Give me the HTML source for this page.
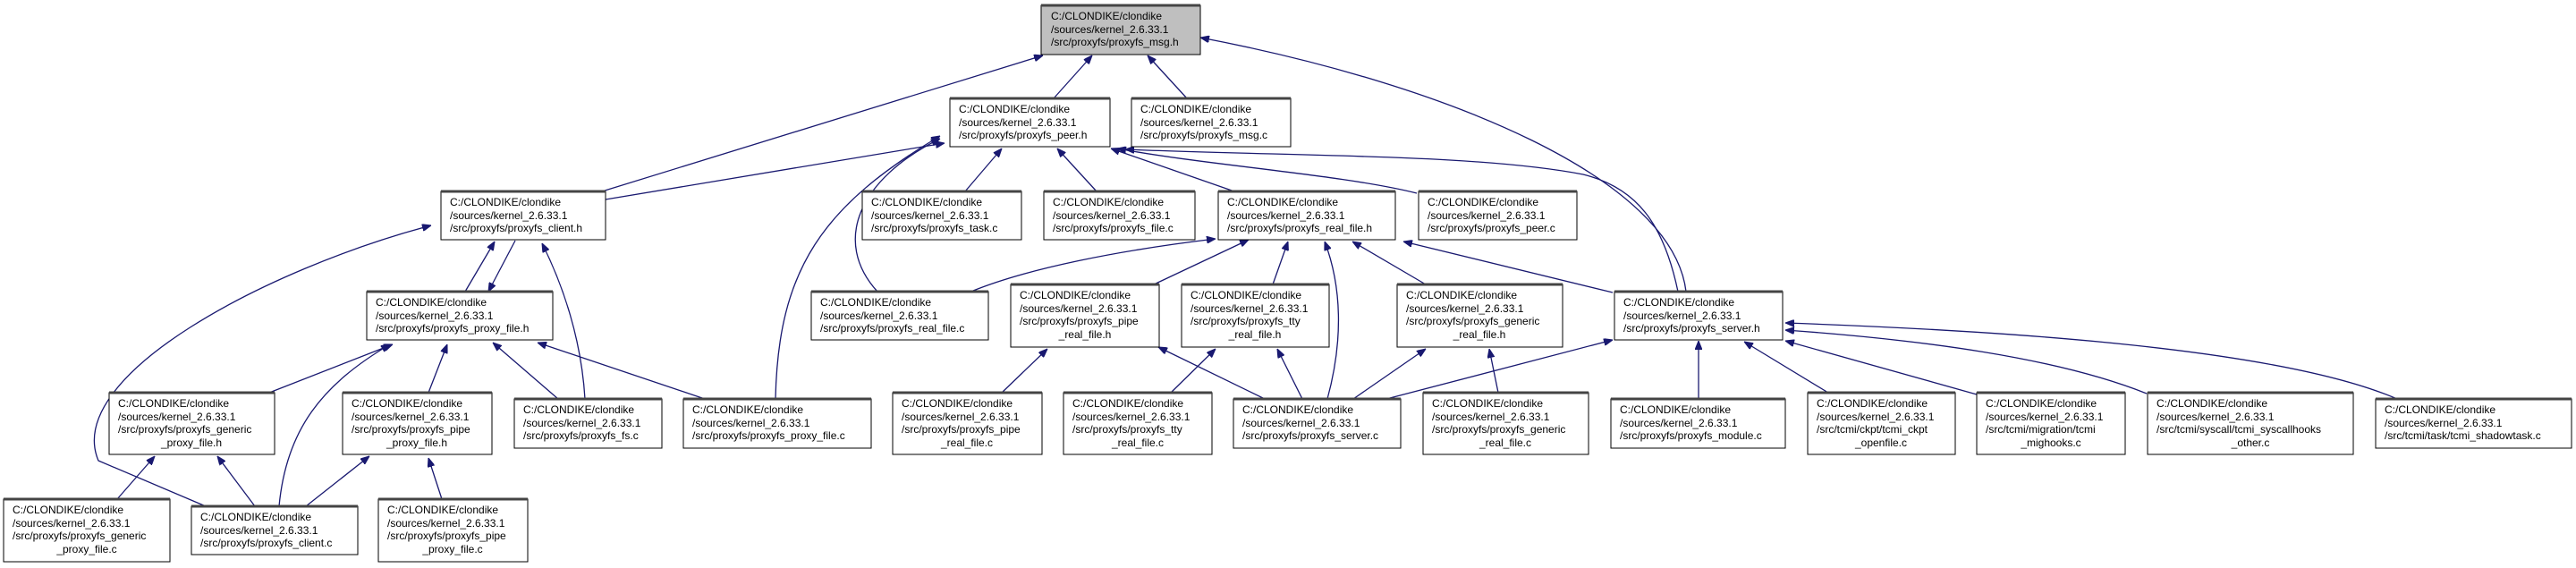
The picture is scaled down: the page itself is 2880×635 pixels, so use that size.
<!DOCTYPE html>
<html><head><meta charset="utf-8">
<style>
html,body{margin:0;padding:0;background:#fff;}
svg{display:block;}
text{font-family:"Liberation Sans",Arial,sans-serif;font-size:12px;fill:#000;}
.b{fill:#fff;stroke:#000;stroke-width:1;}
.t{stroke:#444;stroke-width:3;}
.e{fill:none;stroke:#191970;stroke-width:1.3;}
</style></head><body>
<svg width="2880" height="635" viewBox="0 0 2880 635" xmlns="http://www.w3.org/2000/svg">
<defs><marker id="a" viewBox="0 0 10 8" refX="10" refY="4" markerWidth="10" markerHeight="8" markerUnits="userSpaceOnUse" orient="auto"><path d="M0,0 L10,4 L0,8 z" fill="#191970" stroke="#191970"/></marker></defs>
<g class="e" marker-end="url(#a)">
<path d="M1178,110 L1221,62"/>
<path d="M1327,110 L1283,62"/>
<path d="M673,214 L1166,62"/>
<path d="M1885,326 C1870,200 1620,95 1342,42"/>
<path d="M677,223 L1056,160"/>
<path d="M981,326 C930,270 960,200 1051,155"/>
<path d="M867,446 C870,300 920,230 1051,152"/>
<path d="M1079,214 L1120,166"/>
<path d="M1226,214 L1182,166"/>
<path d="M1380,214 L1242,166"/>
<path d="M1584,216 C1500,195 1350,185 1249,166"/>
<path d="M1876,326 C1860,250 1830,210 1770,195 C1650,172 1450,175 1258,167"/>
<path d="M520,326 L553,270"/>
<path d="M576,269 L546,326"/>
<path d="M654,446 C650,380 630,320 606,272"/>
<path d="M230,566 L110,515 C70,420 300,300 482,252"/>
<path d="M301,439 L439,385"/>
<path d="M312,566 C320,480 360,430 436,385"/>
<path d="M479,439 L500,385"/>
<path d="M624,446 L551,383"/>
<path d="M788,446 L601,383"/>
<path d="M131,558 L173,510"/>
<path d="M285,566 L243,510"/>
<path d="M342,566 L413,510"/>
<path d="M494,558 L479,512"/>
<path d="M1088,325 C1150,300 1250,280 1359,267"/>
<path d="M1290,318 L1396,268"/>
<path d="M1423,318 L1440,270"/>
<path d="M1484,446 C1502,380 1500,320 1481,270"/>
<path d="M1594,318 L1512,270"/>
<path d="M1803,327 L1569,270"/>
<path d="M1120,439 L1171,390"/>
<path d="M1414,446 L1295,388"/>
<path d="M1309,439 L1359,390"/>
<path d="M1456,446 L1428,390"/>
<path d="M1513,446 L1594,390"/>
<path d="M1675,439 L1665,390"/>
<path d="M1550,446 L1803,380"/>
<path d="M1899,446 L1899,381"/>
<path d="M2044,439 L1950,382"/>
<path d="M2210,441 L1996,381"/>
<path d="M2400,440 C2300,400 2150,380 1996,369"/>
<path d="M2680,446 C2550,390 2250,370 1996,361"/>
</g>
<g>
<rect x="1164" y="6" width="178" height="55" fill="#bfbfbf" stroke="#000"/><line class="t" x1="1164" y1="6" x2="1342" y2="6"/>
<text x="1175" y="22">C:/CLONDIKE/clondike</text><text x="1175" y="37">/sources/kernel_2.6.33.1</text><text x="1175" y="51">/src/proxyfs/proxyfs_msg.h</text>

<rect class="b" x="1062" y="110" width="179" height="54"/><line class="t" x1="1062" y1="110" x2="1241" y2="110"/>
<text x="1072" y="126">C:/CLONDIKE/clondike</text><text x="1072" y="141">/sources/kernel_2.6.33.1</text><text x="1072" y="155">/src/proxyfs/proxyfs_peer.h</text>

<rect class="b" x="1265" y="110" width="178" height="54"/><line class="t" x1="1265" y1="110" x2="1443" y2="110"/>
<text x="1275" y="126">C:/CLONDIKE/clondike</text><text x="1275" y="141">/sources/kernel_2.6.33.1</text><text x="1275" y="155">/src/proxyfs/proxyfs_msg.c</text>

<rect class="b" x="493" y="214" width="184" height="54"/><line class="t" x1="493" y1="214" x2="677" y2="214"/>
<text x="503" y="230">C:/CLONDIKE/clondike</text><text x="503" y="245">/sources/kernel_2.6.33.1</text><text x="503" y="259">/src/proxyfs/proxyfs_client.h</text>

<rect class="b" x="964" y="214" width="178" height="54"/><line class="t" x1="964" y1="214" x2="1142" y2="214"/>
<text x="974" y="230">C:/CLONDIKE/clondike</text><text x="974" y="245">/sources/kernel_2.6.33.1</text><text x="974" y="259">/src/proxyfs/proxyfs_task.c</text>

<rect class="b" x="1167" y="214" width="169" height="54"/><line class="t" x1="1167" y1="214" x2="1336" y2="214"/>
<text x="1177" y="230">C:/CLONDIKE/clondike</text><text x="1177" y="245">/sources/kernel_2.6.33.1</text><text x="1177" y="259">/src/proxyfs/proxyfs_file.c</text>

<rect class="b" x="1362" y="214" width="198" height="54"/><line class="t" x1="1362" y1="214" x2="1560" y2="214"/>
<text x="1372" y="230">C:/CLONDIKE/clondike</text><text x="1372" y="245">/sources/kernel_2.6.33.1</text><text x="1372" y="259">/src/proxyfs/proxyfs_real_file.h</text>

<rect class="b" x="1586" y="214" width="177" height="54"/><line class="t" x1="1586" y1="214" x2="1763" y2="214"/>
<text x="1596" y="230">C:/CLONDIKE/clondike</text><text x="1596" y="245">/sources/kernel_2.6.33.1</text><text x="1596" y="259">/src/proxyfs/proxyfs_peer.c</text>

<rect class="b" x="410" y="326" width="208" height="54"/><line class="t" x1="410" y1="326" x2="618" y2="326"/>
<text x="420" y="342">C:/CLONDIKE/clondike</text><text x="420" y="357">/sources/kernel_2.6.33.1</text><text x="420" y="371">/src/proxyfs/proxyfs_proxy_file.h</text>

<rect class="b" x="907" y="326" width="198" height="54"/><line class="t" x1="907" y1="326" x2="1105" y2="326"/>
<text x="917" y="342">C:/CLONDIKE/clondike</text><text x="917" y="357">/sources/kernel_2.6.33.1</text><text x="917" y="371">/src/proxyfs/proxyfs_real_file.c</text>

<rect class="b" x="1130" y="318" width="166" height="70"/><line class="t" x1="1130" y1="318" x2="1296" y2="318"/>
<text x="1140" y="334">C:/CLONDIKE/clondike</text><text x="1140" y="349">/sources/kernel_2.6.33.1</text><text x="1140" y="363">/src/proxyfs/proxyfs_pipe</text><text x="1213" y="378" text-anchor="middle">_real_file.h</text>

<rect class="b" x="1321" y="318" width="165" height="70"/><line class="t" x1="1321" y1="318" x2="1486" y2="318"/>
<text x="1331" y="334">C:/CLONDIKE/clondike</text><text x="1331" y="349">/sources/kernel_2.6.33.1</text><text x="1331" y="363">/src/proxyfs/proxyfs_tty</text><text x="1403" y="378" text-anchor="middle">_real_file.h</text>

<rect class="b" x="1562" y="318" width="185" height="70"/><line class="t" x1="1562" y1="318" x2="1747" y2="318"/>
<text x="1572" y="334">C:/CLONDIKE/clondike</text><text x="1572" y="349">/sources/kernel_2.6.33.1</text><text x="1572" y="363">/src/proxyfs/proxyfs_generic</text><text x="1654" y="378" text-anchor="middle">_real_file.h</text>

<rect class="b" x="1805" y="326" width="188" height="54"/><line class="t" x1="1805" y1="326" x2="1993" y2="326"/>
<text x="1815" y="342">C:/CLONDIKE/clondike</text><text x="1815" y="357">/sources/kernel_2.6.33.1</text><text x="1815" y="371">/src/proxyfs/proxyfs_server.h</text>

<rect class="b" x="122" y="439" width="185" height="69"/><line class="t" x1="122" y1="439" x2="307" y2="439"/>
<text x="132" y="455">C:/CLONDIKE/clondike</text><text x="132" y="470">/sources/kernel_2.6.33.1</text><text x="132" y="484">/src/proxyfs/proxyfs_generic</text><text x="214" y="499" text-anchor="middle">_proxy_file.h</text>

<rect class="b" x="383" y="439" width="167" height="69"/><line class="t" x1="383" y1="439" x2="550" y2="439"/>
<text x="393" y="455">C:/CLONDIKE/clondike</text><text x="393" y="470">/sources/kernel_2.6.33.1</text><text x="393" y="484">/src/proxyfs/proxyfs_pipe</text><text x="466" y="499" text-anchor="middle">_proxy_file.h</text>

<rect class="b" x="575" y="446" width="165" height="55"/><line class="t" x1="575" y1="446" x2="740" y2="446"/>
<text x="585" y="462">C:/CLONDIKE/clondike</text><text x="585" y="477">/sources/kernel_2.6.33.1</text><text x="585" y="491">/src/proxyfs/proxyfs_fs.c</text>

<rect class="b" x="764" y="446" width="210" height="55"/><line class="t" x1="764" y1="446" x2="974" y2="446"/>
<text x="774" y="462">C:/CLONDIKE/clondike</text><text x="774" y="477">/sources/kernel_2.6.33.1</text><text x="774" y="491">/src/proxyfs/proxyfs_proxy_file.c</text>

<rect class="b" x="998" y="439" width="167" height="69"/><line class="t" x1="998" y1="439" x2="1165" y2="439"/>
<text x="1008" y="455">C:/CLONDIKE/clondike</text><text x="1008" y="470">/sources/kernel_2.6.33.1</text><text x="1008" y="484">/src/proxyfs/proxyfs_pipe</text><text x="1081" y="499" text-anchor="middle">_real_file.c</text>

<rect class="b" x="1189" y="439" width="166" height="69"/><line class="t" x1="1189" y1="439" x2="1355" y2="439"/>
<text x="1199" y="455">C:/CLONDIKE/clondike</text><text x="1199" y="470">/sources/kernel_2.6.33.1</text><text x="1199" y="484">/src/proxyfs/proxyfs_tty</text><text x="1272" y="499" text-anchor="middle">_real_file.c</text>

<rect class="b" x="1379" y="446" width="187" height="55"/><line class="t" x1="1379" y1="446" x2="1566" y2="446"/>
<text x="1389" y="462">C:/CLONDIKE/clondike</text><text x="1389" y="477">/sources/kernel_2.6.33.1</text><text x="1389" y="491">/src/proxyfs/proxyfs_server.c</text>

<rect class="b" x="1591" y="439" width="185" height="69"/><line class="t" x1="1591" y1="439" x2="1776" y2="439"/>
<text x="1601" y="455">C:/CLONDIKE/clondike</text><text x="1601" y="470">/sources/kernel_2.6.33.1</text><text x="1601" y="484">/src/proxyfs/proxyfs_generic</text><text x="1683" y="499" text-anchor="middle">_real_file.c</text>

<rect class="b" x="1801" y="446" width="195" height="55"/><line class="t" x1="1801" y1="446" x2="1996" y2="446"/>
<text x="1811" y="462">C:/CLONDIKE/clondike</text><text x="1811" y="477">/sources/kernel_2.6.33.1</text><text x="1811" y="491">/src/proxyfs/proxyfs_module.c</text>

<rect class="b" x="2021" y="439" width="165" height="69"/><line class="t" x1="2021" y1="439" x2="2186" y2="439"/>
<text x="2031" y="455">C:/CLONDIKE/clondike</text><text x="2031" y="470">/sources/kernel_2.6.33.1</text><text x="2031" y="484">/src/tcmi/ckpt/tcmi_ckpt</text><text x="2103" y="499" text-anchor="middle">_openfile.c</text>

<rect class="b" x="2210" y="439" width="166" height="69"/><line class="t" x1="2210" y1="439" x2="2376" y2="439"/>
<text x="2220" y="455">C:/CLONDIKE/clondike</text><text x="2220" y="470">/sources/kernel_2.6.33.1</text><text x="2220" y="484">/src/tcmi/migration/tcmi</text><text x="2293" y="499" text-anchor="middle">_mighooks.c</text>

<rect class="b" x="2401" y="439" width="230" height="69"/><line class="t" x1="2401" y1="439" x2="2631" y2="439"/>
<text x="2411" y="455">C:/CLONDIKE/clondike</text><text x="2411" y="470">/sources/kernel_2.6.33.1</text><text x="2411" y="484">/src/tcmi/syscall/tcmi_syscallhooks</text><text x="2516" y="499" text-anchor="middle">_other.c</text>

<rect class="b" x="2656" y="446" width="219" height="55"/><line class="t" x1="2656" y1="446" x2="2875" y2="446"/>
<text x="2666" y="462">C:/CLONDIKE/clondike</text><text x="2666" y="477">/sources/kernel_2.6.33.1</text><text x="2666" y="491">/src/tcmi/task/tcmi_shadowtask.c</text>

<rect class="b" x="4" y="558" width="186" height="70"/><line class="t" x1="4" y1="558" x2="190" y2="558"/>
<text x="14" y="574">C:/CLONDIKE/clondike</text><text x="14" y="589">/sources/kernel_2.6.33.1</text><text x="14" y="603">/src/proxyfs/proxyfs_generic</text><text x="97" y="618" text-anchor="middle">_proxy_file.c</text>

<rect class="b" x="214" y="566" width="186" height="54"/><line class="t" x1="214" y1="566" x2="400" y2="566"/>
<text x="224" y="582">C:/CLONDIKE/clondike</text><text x="224" y="597">/sources/kernel_2.6.33.1</text><text x="224" y="611">/src/proxyfs/proxyfs_client.c</text>

<rect class="b" x="423" y="558" width="167" height="70"/><line class="t" x1="423" y1="558" x2="590" y2="558"/>
<text x="433" y="574">C:/CLONDIKE/clondike</text><text x="433" y="589">/sources/kernel_2.6.33.1</text><text x="433" y="603">/src/proxyfs/proxyfs_pipe</text><text x="506" y="618" text-anchor="middle">_proxy_file.c</text>
</g>
</svg>
</body></html>
